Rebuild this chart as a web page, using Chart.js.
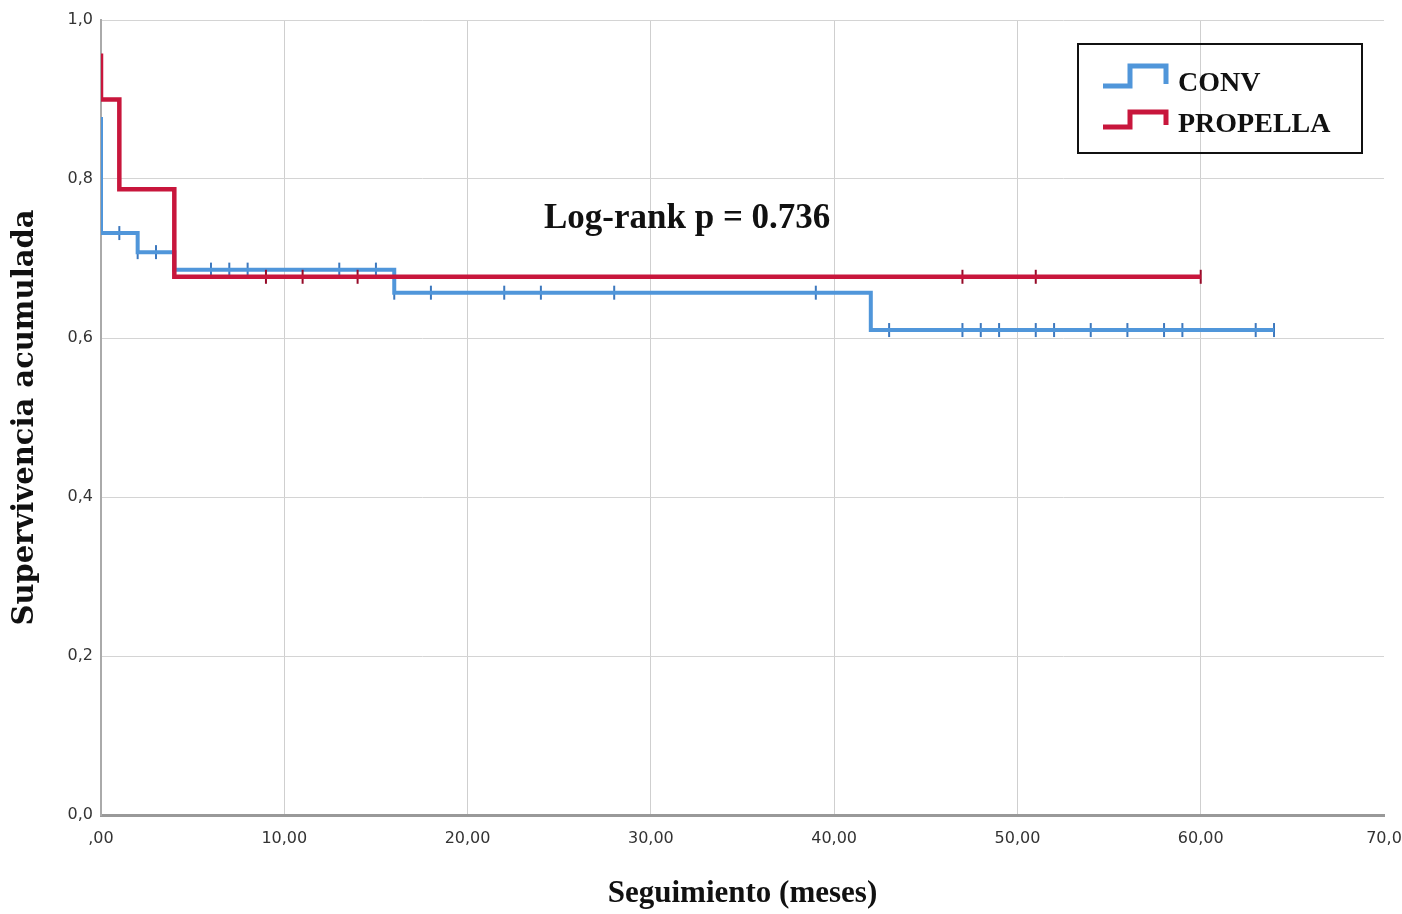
<!DOCTYPE html>
<html>
<head>
<meta charset="utf-8">
<script src="https://cdn.jsdelivr.net/npm/chart.js@4"></script>
<style>
body{margin:0;background:#fff;}
#wrap{width:1402px;height:914px;position:relative;}
</style>
</head>
<body>
<div id="wrap"><canvas id="kmChart"></canvas></div>
<script>

// Kaplan-Meier steps (time in months, cumulative survival)
const convTimes = [0, 0, 2, 4, 16, 42, 64]
const convSurv = [0.878, 0.732, 0.708, 0.686, 0.657, 0.610, 0.610]
const propTimes = [0, 0, 1, 4, 60]
const propSurv = [0.958, 0.900, 0.787, 0.677, 0.677]

// censored cases
const convCensored = [1, 2, 3, 6, 7, 8, 13, 15, 16, 18, 22, 24, 28, 39, 43, 47, 48, 49, 51, 52, 54, 56, 58, 59, 63, 64]
const propCensored = [9, 11, 14, 47, 51, 60]

const xTickLabels = [",00", "10,00", "20,00", "30,00", "40,00", "50,00", "60,00", "70,0"]
const yTickLabels = ["0,0", "0,2", "0,4", "0,6", "0,8", "1,0"]

const seriesNames = ["CONV", "PROPELLA"]
const logRankText = "Log-rank p = 0.736"

const blue = "rgb(80,150,218)"
const red = "rgb(200,22,60)"


function survAt(times, surv, t){
let s = surv[0]
for(let i = 0; i < times.length; i++){
if(times[i] <= t) s = surv[i]
}
return s
}

function steps(times, surv){
return times.map((t, i) => ({x: t, y: surv[i]}))
}

function marks(times, surv, cens){
return cens.map(t => ({x: t, y: survAt(times, surv, t)}))
}


// legend box + log-rank label
const extras = {
id: "extras",
afterDraw(chart){
const c = chart.ctx
c.save()

c.font = "bold 35px 'Liberation Serif'"
c.fillStyle = "#111"
c.textBaseline = "alphabetic"
c.fillText(logRankText, 544, 228)

c.strokeStyle = "#111"
c.lineWidth = 2
c.strokeRect(1078, 44, 284, 109)

const icons = [[blue, 86, 66], [red, 127, 112]]
c.lineWidth = 5
c.lineJoin = "miter"
icons.forEach((ic, i) => {
c.strokeStyle = ic[0]
c.beginPath()
c.moveTo(1103, ic[1])
c.lineTo(1130, ic[1])
c.lineTo(1130, ic[2])
c.lineTo(1166, ic[2])
c.lineTo(1166, ic[1] - 2)
c.stroke()
c.font = "bold 28px 'Liberation Serif'"
c.fillStyle = "#111"
c.fillText(seriesNames[i], 1178, ic[1] + 5)
})

c.restore()
}
}


const ctx = document.getElementById("kmChart")

new Chart(ctx, {
type: "scatter",
data: {
datasets: [
{
label: "PROPELLA",
data: steps(propTimes, propSurv),
showLine: true,
stepped: "before",
borderColor: red,
borderWidth: 4.5,
pointRadius: 0
},
{
label: "PROPELLA censored",
data: marks(propTimes, propSurv, propCensored),
pointStyle: "line",
rotation: 90,
pointRadius: 7,
borderWidth: 2,
borderColor: "rgb(150,10,40)"
},
{
label: "CONV",
data: steps(convTimes, convSurv),
showLine: true,
stepped: "before",
borderColor: blue,
borderWidth: 4,
pointRadius: 0
},
{
label: "CONV censored",
data: marks(convTimes, convSurv, convCensored),
pointStyle: "line",
rotation: 90,
pointRadius: 7,
borderWidth: 2,
borderColor: "rgb(60,120,190)"
}
]
},
options: {
responsive: true,
maintainAspectRatio: false,
animation: false,
layout: {padding: {top: 20, right: 18, left: 0, bottom: 0}},
plugins: {
legend: {display: false},
tooltip: {enabled: false}
},
scales: {
x: {
type: "linear",
min: 0,
max: 70,
ticks: {
stepSize: 10,
padding: 14,
color: "#333",
font: {family: "DejaVu Sans", size: 16},
callback: (v, i) => xTickLabels[i]
},
grid: {
drawTicks: false,
lineWidth: 1,
color: c => c.tick && c.tick.value === 70 ? "rgba(0,0,0,0)" : "#cfcfcf"
},
border: {color: "#999", width: 3},
title: {
display: true,
text: "Seguimiento (meses)",
color: "#111",
font: {family: "Liberation Serif", size: 31, weight: "bold"},
padding: {top: 0, bottom: 1}
},
afterFit: s => { s.height = 99; s.paddingLeft = 0; s.paddingRight = 0 }
},
y: {
min: 0,
max: 1,
ticks: {
stepSize: 0.2,
padding: 8,
color: "#333",
font: {family: "DejaVu Sans", size: 16},
callback: (v, i) => yTickLabels[i]
},
grid: {drawTicks: false, lineWidth: 1, color: "#d4d4d4"},
border: {color: "#aaa", width: 2},
title: {
display: true,
text: "Supervivencia acumulada",
color: "#111",
font: {family: "DejaVu Serif", size: 29, weight: "bold"},
padding: {top: 8, bottom: 0}
},
afterFit: s => { s.width = 101 }
}
}
},
plugins: [extras]
})

</script>
</body>
</html>
